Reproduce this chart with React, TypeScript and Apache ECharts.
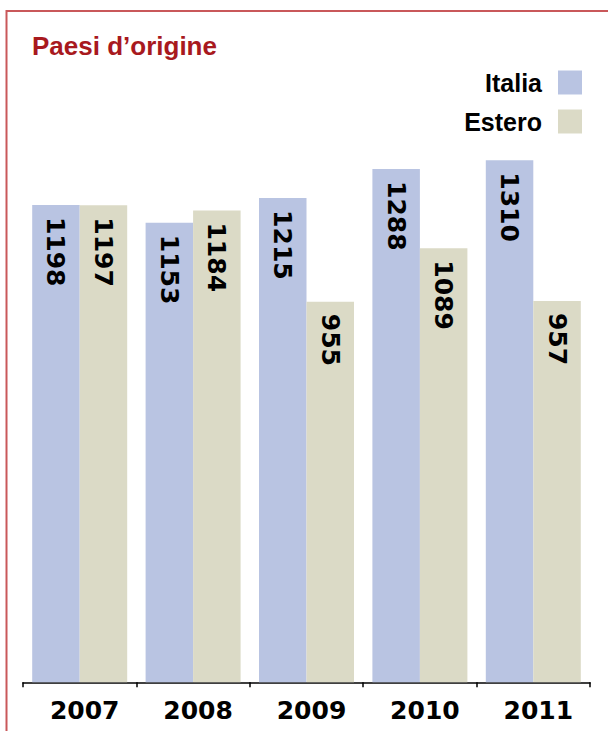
import React, { useEffect, useRef } from "react";
import * as echarts from "echarts";

const years = ["2007", "2008", "2009", "2010", "2011"];
const italia = [1198, 1153, 1215, 1288, 1310];
const estero = [1197, 1184, 955, 1089, 957];
const seriesNames = ["Italia", "Estero"];
const titleText = "Paesi d\u2019origine";

const colorItalia = "#b9c4e2";
const colorEstero = "#dbdac6";
const borderRed = "#c9585a";
const titleRed = "#a8191e";

export default function App() {
  const ref = useRef<HTMLDivElement>(null);
  useEffect(() => {
    if (!ref.current) return;
    const chart = echarts.init(ref.current, undefined, { renderer: "svg" });
    const valueLabel = {
      show: true,
      position: "insideTop",
      distance: 12,
      rotate: -90,
      align: "left",
      verticalAlign: "middle",
      color: "#000",
      fontFamily: "DejaVu Sans",
      fontWeight: "bold",
      fontSize: 25,
    };
    chart.setOption({
      animation: false,
      title: {
        text: titleText,
        left: 27,
        top: 28,
        textStyle: {
          color: titleRed,
          fontFamily: "Liberation Sans",
          fontWeight: "bold",
          fontSize: 26,
        },
      },
      legend: {
        orient: "vertical",
        right: 21,
        top: 65,
        align: "right",
        itemWidth: 24,
        itemHeight: 24,
        itemGap: 14,
        icon: "rect",
        data: seriesNames,
        textStyle: {
          color: "#000",
          fontFamily: "Liberation Sans",
          fontWeight: "bold",
          fontSize: 25,
          padding: [0, 11, 0, 0],
        },
      },
      grid: { left: 23, right: 18, top: 124.4, bottom: 48.7 },
      xAxis: {
        type: "category",
        data: years,
        axisLine: { lineStyle: { color: "#000", width: 1.5 } },
        axisTick: { show: true, length: 5, lineStyle: { color: "#000", width: 1.5 } },
        axisLabel: {
          color: "#000",
          fontFamily: "DejaVu Sans",
          fontWeight: "bold",
          fontSize: 25,
          margin: 16,
          padding: [0, 0, 0, 10],
        },
      },
      yAxis: {
        type: "value",
        min: 0,
        max: 1400,
        show: false,
        splitLine: { show: false },
      },
      series: [
        {
          name: seriesNames[0],
          type: "bar",
          data: italia,
          barWidth: 47.5,
          barGap: "0%",
          itemStyle: { color: colorItalia },
          label: valueLabel,
        },
        {
          name: seriesNames[1],
          type: "bar",
          data: estero,
          barWidth: 47.5,
          barGap: "0%",
          itemStyle: { color: colorEstero },
          label: valueLabel,
        },
      ],
      graphic: [
        {
          type: "line",
          shape: { x1: 6.5, y1: 11, x2: 608, y2: 11 },
          style: { stroke: borderRed, lineWidth: 2 },
        },
        {
          type: "line",
          shape: { x1: 6.5, y1: 10, x2: 6.5, y2: 731 },
          style: { stroke: borderRed, lineWidth: 2 },
        },
      ],
    });
    return () => chart.dispose();
  }, []);
  return <div ref={ref} style={{ width: 608, height: 731, position: "absolute", left: 0, top: 0 }} />;
}
